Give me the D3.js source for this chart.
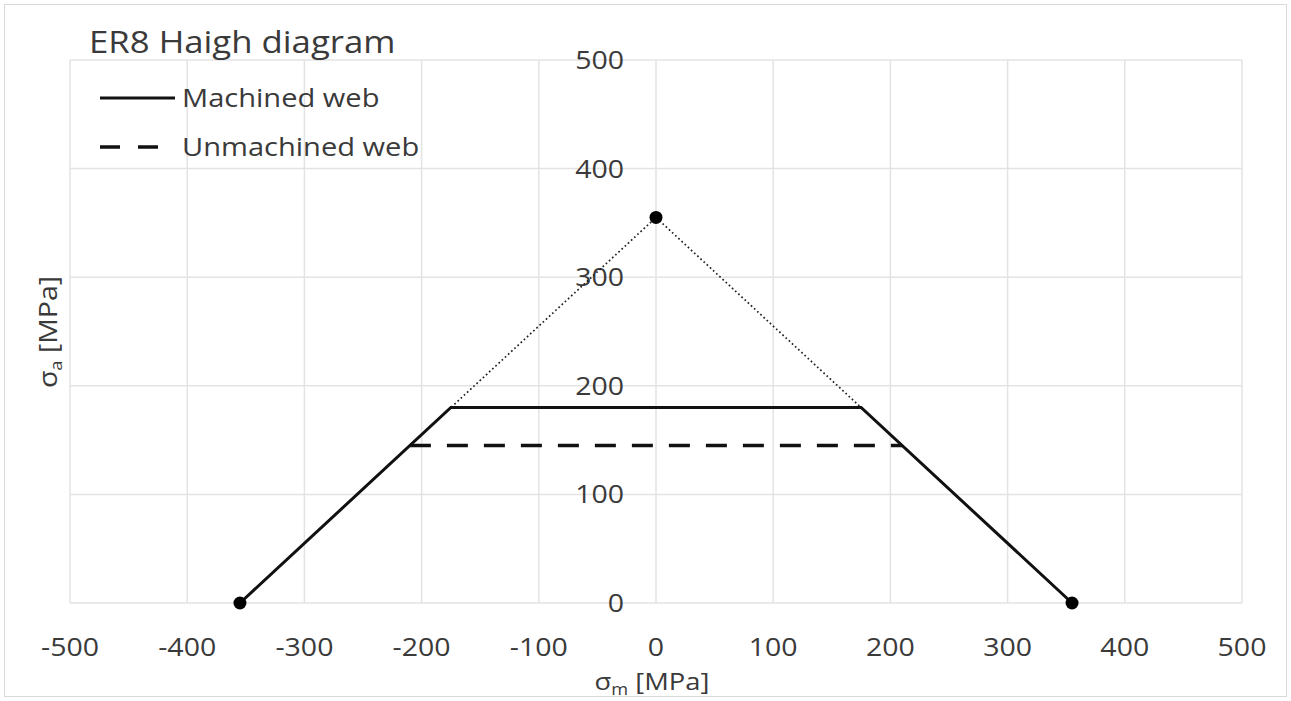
<!DOCTYPE html>
<html><head><meta charset="utf-8">
<script src="https://cdn.jsdelivr.net/npm/d3@7"></script>
<style>body{margin:0;background:#fff}svg{display:block}text{font-family:"Open Sans",Lato,sans-serif;fill:#3a3a3a}</style>
</head><body><svg id="c" width="1291" height="701"></svg>
<script>
const xTicks = [-500,-400,-300,-200,-100,0,100,200,300,400,500];
const yTicks = [0,100,200,300,400,500];
const machinedX = [-355,-175,175,355];
const machinedY = [0,180,180,0];
const unmachinedX = [-210,210];
const unmachinedY = [145,145];
const envelopeX = [-355,0,355];
const envelopeY = [0,355,0];
const markerX = [-355,0,355];
const markerY = [0,355,0];

const SX = 1.14;
const svg = d3.select("#c");
svg.append("rect").attr("x",4.5).attr("y",4.5).attr("width",1282).attr("height",692).attr("fill","#fff").attr("stroke","#d9d9d9");
const x = d3.scaleLinear().domain([-500,500]).range([70,1242]);
const y = d3.scaleLinear().domain([0,500]).range([603,60]);

function txt(parent, px, py, size, anchor, s){
  return parent.append("text").attr("transform",`translate(${px},${py}) scale(${SX},1)`)
    .attr("text-anchor",anchor).attr("font-size",size).text(s);
}

const g = svg.append("g");
g.selectAll(".vg").data(xTicks).join("line").attr("x1",d=>x(d)).attr("x2",d=>x(d)).attr("y1",y(0)).attr("y2",y(500)).attr("stroke","#e3e3e3").attr("stroke-width",1.5);
g.selectAll(".hg").data(yTicks).join("line").attr("x1",x(-500)).attr("x2",x(500)).attr("y1",d=>y(d)).attr("y2",d=>y(d)).attr("stroke","#e3e3e3").attr("stroke-width",1.5);

xTicks.forEach(d=>txt(g, x(d), 656, 25, "middle", d));
yTicks.forEach(d=>txt(g, x(0)-32, y(d)+9, 25, "end", d));

const line = d3.line().x(d=>x(d[0])).y(d=>y(d[1]));
const zip = (a,b)=>a.map((v,i)=>[v,b[i]]);
g.append("path").attr("d",line(zip(envelopeX,envelopeY))).attr("fill","none").attr("stroke","#222").attr("stroke-width",1.7).attr("stroke-dasharray","1.7,2.6");
g.append("path").attr("d",line(zip(machinedX,machinedY))).attr("fill","none").attr("stroke","#111").attr("stroke-width",3);
g.append("path").attr("d",line(zip(unmachinedX,unmachinedY))).attr("fill","none").attr("stroke","#111").attr("stroke-width",3.5).attr("stroke-dasharray","21,16");
g.selectAll(".mk").data(zip(markerX,markerY)).join("circle").attr("cx",d=>x(d[0])).attr("cy",d=>y(d[1])).attr("r",6.5).attr("fill","#000");

txt(svg, 89, 53, 30.5, "start", "ER8 Haigh diagram").attr("fill","#333");
const lg = svg.append("g");
lg.append("line").attr("x1",100).attr("x2",175).attr("y1",98).attr("y2",98).attr("stroke","#111").attr("stroke-width",3);
txt(lg, 182, 107, 25.5, "start", "Machined web");
lg.append("line").attr("x1",100).attr("x2",158).attr("y1",147).attr("y2",147).attr("stroke","#111").attr("stroke-width",3.5).attr("stroke-dasharray","20,18");
txt(lg, 182, 156, 25.5, "start", "Unmachined web");

const xt = svg.append("text").attr("transform",`translate(${x(0)-4},690) scale(${SX},1)`).attr("text-anchor","middle").attr("font-size",24);
xt.append("tspan").text("σ");
xt.append("tspan").attr("font-size",16).attr("dy",5).text("m");
xt.append("tspan").attr("dy",-5).text(" [MPa]");
const yt = svg.append("text").attr("transform",`translate(57,332) rotate(-90) scale(${SX},1)`).attr("text-anchor","middle").attr("font-size",25);
yt.append("tspan").text("σ");
yt.append("tspan").attr("font-size",16).attr("dy",5).text("a");
yt.append("tspan").attr("dy",-5).text(" [MPa]");
</script></body></html>
